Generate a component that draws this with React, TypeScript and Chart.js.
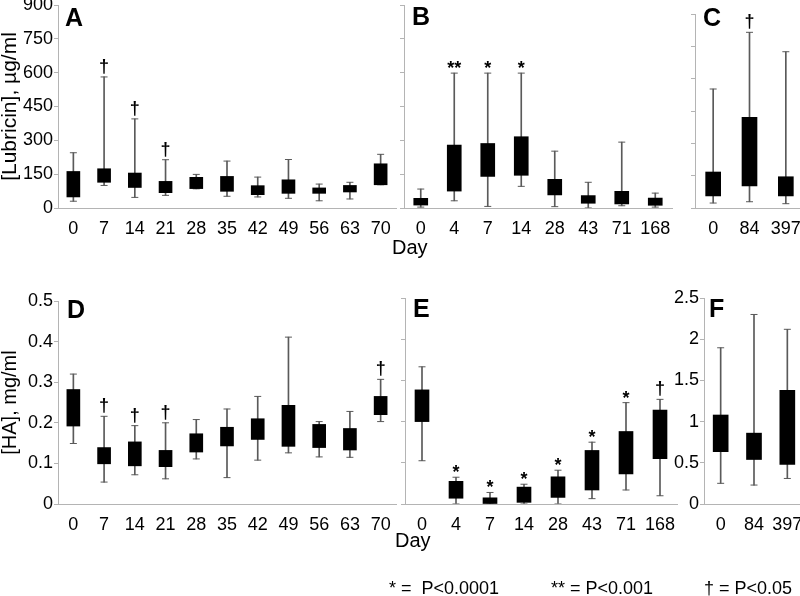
import React, { useEffect, useRef } from 'react';
import { Chart, registerables } from 'chart.js';
Chart.register(...registerables);

const FONT = "'Liberation Sans', Arial, Helvetica, sans-serif";
const CW = 820;
const CH = 596;
const XH = 30;

// ---------- Panel A: Lubricin, days 0-70 ----------
const daysA = ['0', '7', '14', '21', '28', '35', '42', '49', '56', '63', '70'];
const lubA_wLo = [30, 100, 47, 56, 85, 52, 49, 43, 32, 40, 103];
const lubA_bLo = [49, 114, 91, 68, 86, 74, 59, 65, 65, 71, 103];
const lubA_bHi = [162, 174, 155, 118, 136, 140, 99, 125, 89, 100, 196];
const lubA_wHi = [245, 581, 395, 214, 149, 208, 137, 215, 106, 114, 238];
const lubA_sig = ['', '†', '†', '†', '', '', '', '', '', '', ''];

// ---------- Panel B: Lubricin, days 0-168 ----------
const daysB = ['0', '4', '7', '14', '28', '43', '71', '168'];
const lubB_wLo = [4, 32, 7, 96, 6, 0, 10, 4];
const lubB_bLo = [13, 75, 140, 145, 58, 21, 18, 12];
const lubB_bHi = [43, 279, 286, 316, 127, 55, 74, 44];
const lubB_wHi = [84, 598, 598, 598, 252, 114, 292, 66];
const lubB_sig = ['', '**', '*', '*', '', '', '', ''];

// ---------- Panel C: Lubricin, days 0-397 ----------
const daysC = ['0', '84', '397'];
const lubC_wLo = [23, 29, 20];
const lubC_bLo = [56, 103, 56];
const lubC_bHi = [167, 421, 145];
const lubC_wHi = [552, 815, 725];
const lubC_sig = ['', '†', ''];

// ---------- Panel D: HA, days 0-70 ----------
const daysD = ['0', '7', '14', '21', '28', '35', '42', '49', '56', '63', '70'];
const haD_wLo = [0.149, 0.054, 0.072, 0.062, 0.111, 0.065, 0.108, 0.126, 0.116, 0.115, 0.203];
const haD_bLo = [0.192, 0.099, 0.094, 0.092, 0.128, 0.143, 0.159, 0.142, 0.139, 0.133, 0.22];
const haD_bHi = [0.282, 0.139, 0.153, 0.132, 0.173, 0.189, 0.21, 0.243, 0.196, 0.186, 0.265];
const haD_wHi = [0.32, 0.216, 0.193, 0.2, 0.208, 0.234, 0.265, 0.411, 0.203, 0.228, 0.307];
const haD_sig = ['', '†', '†', '†', '', '', '', '', '', '', '†'];

// ---------- Panel E: HA, days 0-168 ----------
const daysE = ['0', '4', '7', '14', '28', '43', '71', '168'];
const haE_wLo = [0.105, 0.0, 0.0, 0.0, 0.0, 0.013, 0.034, 0.02];
const haE_bLo = [0.2, 0.014, 0.0, 0.004, 0.016, 0.034, 0.073, 0.11];
const haE_bHi = [0.277, 0.055, 0.015, 0.041, 0.066, 0.13, 0.176, 0.228];
const haE_wHi = [0.333, 0.065, 0.028, 0.048, 0.082, 0.15, 0.246, 0.254];
const haE_sig = ['', '*', '*', '*', '*', '*', '*', '†'];

// ---------- Panel F: HA, days 0-397 ----------
const daysF = ['0', '84', '397'];
const haF_wLo = [0.251, 0.23, 0.31];
const haF_bLo = [0.635, 0.54, 0.48];
const haF_bHi = [1.08, 0.86, 1.38];
const haF_wHi = [1.896, 2.3, 2.12];
const haF_sig = ['', '', ''];

const legendItems = ['* =  P<0.0001', '** = P<0.001', '† = P<0.05'];

type Panel = {
  key: string;
  cats: string[];
  wLo: number[];
  bLo: number[];
  bHi: number[];
  wHi: number[];
  sig: string[];
  min: number;
  max: number;
  step: number;
  showLabels: boolean;
  title?: string;
  titleSize?: number;
  area: { l: number; r: number; t: number; b: number };
  barW: number;
  yW: number;
};

const panels: Panel[] = [
  { key: 'A', cats: daysA, wLo: lubA_wLo, bLo: lubA_bLo, bHi: lubA_bHi, wHi: lubA_wHi, sig: lubA_sig,
    min: 0, max: 900, step: 150, showLabels: true, title: '[Lubricin], µg/ml', titleSize: 21,
    area: { l: 58, r: 396, t: 5, b: 208 }, barW: 13, yW: 58 },
  { key: 'B', cats: daysB, wLo: lubB_wLo, bLo: lubB_bLo, bHi: lubB_bHi, wHi: lubB_wHi, sig: lubB_sig,
    min: 0, max: 900, step: 150, showLabels: false,
    area: { l: 404, r: 672, t: 5, b: 208 }, barW: 14, yW: 10 },
  { key: 'C', cats: daysC, wLo: lubC_wLo, bLo: lubC_bLo, bHi: lubC_bHi, wHi: lubC_wHi, sig: lubC_sig,
    min: 0, max: 900, step: 150, showLabels: false,
    area: { l: 695, r: 804, t: 14, b: 208 }, barW: 15, yW: 10 },
  { key: 'D', cats: daysD, wLo: haD_wLo, bLo: haD_bLo, bHi: haD_bHi, wHi: haD_wHi, sig: haD_sig,
    min: 0, max: 0.5, step: 0.1, showLabels: true, title: '[HA], mg/ml', titleSize: 20,
    area: { l: 58, r: 396, t: 301, b: 504 }, barW: 13, yW: 58 },
  { key: 'E', cats: daysE, wLo: haE_wLo, bLo: haE_bLo, bHi: haE_bHi, wHi: haE_wHi, sig: haE_sig,
    min: 0, max: 0.5, step: 0.1, showLabels: false,
    area: { l: 405, r: 677, t: 298, b: 504 }, barW: 14, yW: 10 },
  { key: 'F', cats: daysF, wLo: haF_wLo, bLo: haF_bLo, bHi: haF_bHi, wHi: haF_wHi, sig: haF_sig,
    min: 0, max: 2.5, step: 0.5, showLabels: true,
    area: { l: 704, r: 804, t: 298, b: 504 }, barW: 15, yW: 58 },
];

const sigPlugin = {
  id: 'sig',
  afterDatasetsDraw(chart: any, _args: any, opts: any) {
    const marks: string[] = opts.marks || [];
    const tops: number[] = opts.tops || [];
    const ctx = chart.ctx;
    const xs = chart.scales.x;
    const ys = chart.scales.y;
    ctx.save();
    ctx.fillStyle = '#000';
    ctx.textAlign = 'center';
    ctx.textBaseline = 'alphabetic';
    ctx.font = `bold 18px ${FONT}`;
    marks.forEach((m, i) => {
      if (!m) return;
      const px = xs.getPixelForValue(i);
      const py = ys.getPixelForValue(tops[i]);
      const dy = m.indexOf('*') >= 0 ? 1 : -5;
      ctx.fillText(m, px, py + dy);
    });
    ctx.restore();
  },
};

const AXIS = '#b4b4b4';
const WHISK = '#5a5a5a';

function makeConfig(p: Panel): any {
  const boxes = p.cats.map((_, i) => [p.bLo[i], p.bHi[i]]);
  const whiskers = p.cats.map((_, i) => [p.wLo[i], p.wHi[i]]);
  const yTicks: any = {
    stepSize: p.step,
    color: '#000',
    font: { family: FONT, size: 18 },
    padding: 1,
    callback: p.showLabels ? (v: any) => String(Math.round(Number(v) * 1000) / 1000) : () => '',
  };
  const yScale: any = {
    min: p.min,
    max: p.max,
    ticks: yTicks,
    grid: { display: true, drawOnChartArea: false, drawTicks: true, tickLength: 4, color: AXIS },
    border: { display: true, color: AXIS, width: 1 },
    afterFit: (s: any) => {
      s.width = p.yW;
      s.paddingTop = 0;
      s.paddingBottom = 0;
    },
  };
  if (p.title) {
    yScale.title = {
      display: true,
      text: p.title,
      color: '#000',
      font: { family: FONT, size: p.titleSize, lineHeight: 1 },
      padding: { top: 0, bottom: 0 },
    };
  }
  return {
    type: 'bar',
    data: {
      labels: p.cats,
      datasets: [
        { type: 'bar', label: 'box', data: boxes, backgroundColor: '#000', barThickness: p.barW, grouped: false, order: 1 },
        { type: 'bar', label: 'whisker', data: whiskers, backgroundColor: WHISK, barThickness: 1, grouped: false, order: 2 },
        { type: 'line', label: 'capHi', data: p.wHi, showLine: false, pointStyle: 'line', pointRadius: 3.5,
          pointBorderWidth: 1, pointBorderColor: WHISK, pointBackgroundColor: WHISK, order: 3 },
        { type: 'line', label: 'capLo', data: p.wLo, showLine: false, pointStyle: 'line', pointRadius: 3.5,
          pointBorderWidth: 1, pointBorderColor: WHISK, pointBackgroundColor: WHISK, order: 3 },
      ],
    },
    options: {
      responsive: false,
      maintainAspectRatio: false,
      animation: false,
      devicePixelRatio: 1,
      events: [],
      layout: {
        padding: {
          left: p.area.l - p.yW,
          right: CW - p.area.r,
          top: p.area.t,
          bottom: CH - p.area.b - XH,
        },
      },
      plugins: {
        legend: { display: false },
        tooltip: { enabled: false },
        sig: { marks: p.sig, tops: p.wHi },
      },
      scales: {
        x: {
          offset: true,
          grid: { display: false },
          border: { display: true, color: AXIS, width: 1 },
          ticks: { color: '#000', font: { family: FONT, size: 18 }, padding: 2, maxRotation: 0, autoSkip: false },
          afterFit: (s: any) => {
            s.height = XH;
            s.paddingLeft = 0;
            s.paddingRight = 0;
          },
        },
        y: yScale,
      },
    },
    plugins: [sigPlugin],
  };
}

function PanelChart({ p }: { p: Panel }) {
  const ref = useRef<HTMLCanvasElement>(null);
  useEffect(() => {
    if (!ref.current) return;
    const c = new Chart(ref.current, makeConfig(p));
    return () => c.destroy();
  }, [p]);
  return (
    <canvas
      ref={ref}
      width={CW}
      height={CH}
      style={{ position: 'absolute', left: 0, top: 0, width: CW, height: CH }}
    />
  );
}

const letters = [
  { t: 'A', x: 65, y: 5 },
  { t: 'B', x: 412, y: 4 },
  { t: 'C', x: 703, y: 5 },
  { t: 'D', x: 67, y: 297 },
  { t: 'E', x: 413, y: 296 },
  { t: 'F', x: 709, y: 296 },
];

const textBase: React.CSSProperties = {
  position: 'absolute',
  fontFamily: FONT,
  color: '#000',
  whiteSpace: 'pre',
  lineHeight: 1,
};

export default function App() {
  return (
    <div
      style={{
        position: 'fixed',
        left: 0,
        top: 0,
        width: 800,
        height: 596,
        overflow: 'hidden',
        background: '#fff',
      }}
    >
      {panels.map((p) => (
        <PanelChart key={p.key} p={p} />
      ))}
      {letters.map((l) => (
        <div key={l.t} style={{ ...textBase, left: l.x, top: l.y, fontSize: 25, fontWeight: 'bold' }}>
          {l.t}
        </div>
      ))}
      <div style={{ ...textBase, left: 392, top: 237, fontSize: 20 }}>Day</div>
      <div style={{ ...textBase, left: 395, top: 530, fontSize: 20 }}>Day</div>
      <div style={{ ...textBase, left: 389, top: 579, fontSize: 18 }}>{legendItems[0]}</div>
      <div style={{ ...textBase, left: 551, top: 579, fontSize: 18 }}>{legendItems[1]}</div>
      <div style={{ ...textBase, left: 704, top: 579, fontSize: 18 }}>{legendItems[2]}</div>
    </div>
  );
}
